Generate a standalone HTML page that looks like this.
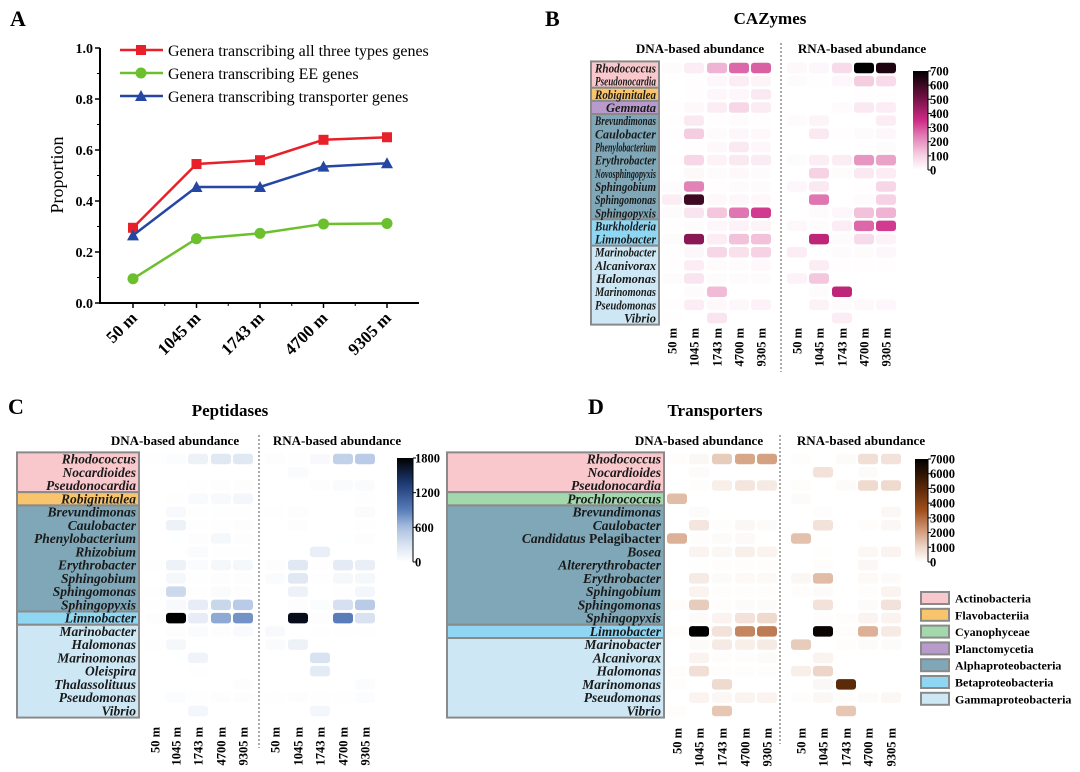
<!DOCTYPE html>
<html><head><meta charset="utf-8">
<style>
html,body{margin:0;padding:0;background:#fff;}
svg{display:block;font-family:"Liberation Serif",serif;}
</style></head>
<body>
<svg id="fig" width="1080" height="772" viewBox="0 0 1080 772" xmlns="http://www.w3.org/2000/svg">
<rect x="0" y="0" width="1080" height="772" fill="#fff"/>
<text x="10" y="26" font-size="22" font-weight="bold">A</text>
<text x="545" y="26" font-size="22" font-weight="bold">B</text>
<text x="8" y="414" font-size="22" font-weight="bold">C</text>
<text x="588" y="414" font-size="22" font-weight="bold">D</text>
<g id="pa"></g>
<g id="pb"></g>
<g id="pc"></g>
<g id="pd"></g>
<g id="legend"></g>
</svg>
<script>
// ---------- Panel A data ----------
const depths = ["50 m","1045 m","1743 m","4700 m","9305 m"];
const allThree = [0.295,0.545,0.56,0.64,0.65];
const eeGenes = [0.095,0.252,0.273,0.31,0.312];
const transGenes = [0.265,0.455,0.455,0.535,0.548];
const yTicks = [0.0,0.2,0.4,0.6,0.8,1.0];

// ---------- Panel B data (CAZymes) ----------
const bRows = ["Rhodococcus","Pseudonocardia","Robiginitalea","Gemmata","Brevundimonas","Caulobacter","Phenylobacterium","Erythrobacter","Novosphingopyxis","Sphingobium","Sphingomonas","Sphingopyxis","Burkholderia","Limnobacter","Marinobacter","Alcanivorax","Halomonas","Marinomonas","Pseudomonas","Vibrio"];
const bGroups = [["act",2],["fla",1],["pla",1],["alp",8],["bet",2],["gam",6]];
const bDNA = [[10,40,150,270,280],[0,5,20,40,25],[0,5,20,20,50],[5,15,40,90,45],[5,50,5,10,5],[5,110,10,20,15],[0,5,15,50,20],[5,90,30,50,45],[0,15,10,15,10],[10,230,5,10,10],[40,600,15,20,15],[10,60,120,250,330],[5,10,20,30,25],[10,470,40,130,130],[5,20,90,70,100],[5,40,10,10,15],[10,60,10,10,10],[0,10,140,0,0],[5,40,15,20,30],[5,0,60,0,0]];
const bRNA = [[15,20,80,700,650],[10,5,20,110,80],[0,0,0,5,5],[0,0,10,50,40],[10,25,0,0,40],[0,50,5,10,20],[0,0,0,5,10],[10,40,40,200,180],[0,100,10,50,40],[20,50,0,5,90],[0,250,0,10,100],[0,10,20,130,150],[15,10,40,270,330],[0,380,10,80,30],[40,0,10,10,20],[0,40,5,5,5],[30,120,0,0,0],[0,10,380,0,0],[0,30,10,15,20],[0,0,40,0,0]];
const bTicks = [0,100,200,300,400,500,600,700];

// ---------- Panel C data (Peptidases) ----------
const cRows = ["Rhodococcus","Nocardioides","Pseudonocardia","Robiginitalea","Brevundimonas","Caulobacter","Phenylobacterium","Rhizobium","Erythrobacter","Sphingobium","Sphingomonas","Sphingopyxis","Limnobacter","Marinobacter","Halomonas","Marinomonas","Oleispira","Thalassolituus","Pseudomonas","Vibrio"];
const cGroups = [["act",3],["fla",1],["alp",8],["bet",1],["gam",7]];
const cDNA = [[10,30,150,250,250],[0,0,0,0,0],[0,0,10,20,20],[0,10,50,60,100],[0,60,10,10,10],[0,150,10,10,20],[0,5,20,80,20],[0,0,40,10,10],[10,150,40,80,80],[0,80,10,20,20],[10,380,10,40,20],[10,60,200,400,500],[20,1800,200,700,800],[0,20,40,20,50],[10,80,0,0,0],[0,5,120,0,0],[0,0,10,0,0],[0,0,0,0,20],[0,30,10,20,20],[0,0,100,0,0]];
const cRNA = [[20,10,60,450,500],[0,40,0,0,0],[0,0,20,40,40],[0,0,0,0,10],[10,20,0,0,40],[0,20,0,0,10],[0,0,0,5,20],[0,0,180,0,0],[20,250,10,220,170],[40,250,10,80,80],[0,150,0,10,100],[0,20,30,320,500],[0,1700,20,900,300],[60,0,10,10,10],[40,150,0,0,0],[0,0,300,0,0],[0,0,220,0,0],[0,0,0,0,30],[10,20,10,10,30],[0,0,100,0,0]];
const cTicks = [0,600,1200,1800];

// ---------- Panel D data (Transporters) ----------
const dRows = ["Rhodococcus","Nocardioides","Pseudonocardia","Prochlorococcus","Brevundimonas","Caulobacter","Candidatus Pelagibacter","Bosea","Altererythrobacter","Erythrobacter","Sphingobium","Sphingomonas","Sphingopyxis","Limnobacter","Marinobacter","Alcanivorax","Halomonas","Marinomonas","Pseudomonas","Vibrio"];
const dGroups = [["act",3],["cya",1],["alp",9],["bet",1],["gam",6]];
const dDNA = [[50,200,1200,1900,2000],[0,100,0,0,0],[0,50,400,600,500],[1500,0,0,0,0],[0,100,0,0,0],[0,600,50,200,100],[1700,50,100,150,0],[0,300,200,400,300],[0,30,50,50,50],[0,500,100,150,150],[0,300,50,50,50],[50,1200,50,100,100],[0,100,300,700,900],[50,7000,700,2500,2700],[0,100,500,400,500],[0,300,50,50,100],[50,800,50,50,50],[50,0,900,0,0],[0,300,200,300,300],[50,0,1300,0,0]];
const dRNA = [[50,0,100,800,700],[0,700,0,100,0],[50,0,100,900,900],[100,0,0,0,0],[0,50,0,0,200],[0,700,0,50,200],[1400,0,0,0,0],[0,30,0,200,300],[0,50,0,200,0],[200,1500,0,150,100],[50,100,0,50,300],[0,700,0,100,700],[0,50,50,300,300],[0,6800,50,1700,500],[1200,0,50,100,100],[0,300,0,0,0],[400,1000,0,0,0],[0,200,5000,0,0],[50,200,50,100,200],[0,0,1300,0,0]];
const dTicks = [0,1000,2000,3000,4000,5000,6000,7000];

const legendNames = ["Actinobacteria","Flavobacteriia","Cyanophyceae","Planctomycetia","Alphaproteobacteria","Betaproteobacteria","Gammaproteobacteria"];
const legendKeys = ["act","fla","cya","pla","alp","bet","gam"];

const NS="http://www.w3.org/2000/svg";
const groupFill={act:"#f8c8cc",fla:"#f8c46c",cya:"#a2d8ab",pla:"#b89acb",alp:"#7fa7b7",bet:"#8fd6f3",gam:"#cde8f4"};
function el(tag,attrs,parent){const e=document.createElementNS(NS,tag);for(const k in attrs)e.setAttribute(k,attrs[k]);parent.appendChild(e);return e;}
function txt(s,attrs,parent){const e=el("text",attrs,parent);e.textContent=s;return e;}

// ---------- Panel A ----------
(function(){
  const g=document.getElementById("pa");
  const x0=100,x1=419,yTop=48,yBot=303;
  const xs=i=>133+i*63.5;
  const ys=v=>yBot-(v/1.0)*(yBot-yTop);
  const ax=el("path",{d:`M${x0},${yTop} V${yBot} H${x1}`,stroke:"#000","stroke-width":2,fill:"none"},g);
  
  
  yTicks.forEach(v=>{
    el("line",{x1:x0-5,x2:x0,y1:ys(v),y2:ys(v),stroke:"#000","stroke-width":1.5},g);
    const t=txt(v.toFixed(1),{x:x0-7,y:ys(v)+5,"font-size":14,"font-weight":"bold","text-anchor":"end"},g);
    
    
  });
  for(let v=0.1;v<1;v+=0.2) el("line",{x1:x0-3,x2:x0,y1:ys(v),y2:ys(v),stroke:"#000","stroke-width":1},g);
  depths.forEach((d,i)=>{
    el("line",{x1:xs(i),x2:xs(i),y1:yBot,y2:yBot+5,stroke:"#000","stroke-width":1.5},g);
    if(i<4) el("line",{x1:xs(i)+31.75,x2:xs(i)+31.75,y1:yBot,y2:yBot+3,stroke:"#000","stroke-width":1},g);
    const t=txt(d,{x:xs(i)+5,y:yBot+16,"font-size":17,"font-weight":"bold","text-anchor":"end",transform:`rotate(-45 ${xs(i)+5} ${yBot+16})`},g);
    
    
  });
  const yl=txt("Proportion",{x:63,y:175,"font-size":18,"text-anchor":"middle",transform:"rotate(-90 63 175)"},g);
  
  
  function marker(type,x,y,c,parent){
    if(type==="sq") return el("rect",{x:x-5,y:y-5,width:10,height:10,fill:c},parent);
    if(type==="ci") return el("circle",{cx:x,cy:y,r:5.5,fill:c},parent);
    return el("path",{d:`M${x},${y-6} L${x+6},${y+5} L${x-6},${y+5}Z`,fill:c},parent);
  }
  const series=[[allThree,"#e8202a","sq","Genera transcribing all three types genes"],[eeGenes,"#6cbf2d","ci","Genera transcribing EE genes"],[transGenes,"#2447a4","tr","Genera transcribing transporter genes"]];
  series.forEach((s,k)=>{
    const sg=el("g",{},g);
    
    
    el("polyline",{points:s[0].map((v,i)=>xs(i)+","+ys(v)).join(" "),fill:"none",stroke:s[1],"stroke-width":2.5},sg);
    s[0].forEach((v,i)=>{const m=marker(s[2],xs(i),ys(v),s[1],sg);});
    const ly=50+k*23;
    const lg=el("g",{},g);
    
    
    el("line",{x1:120,x2:163,y1:ly,y2:ly,stroke:s[1],"stroke-width":2.5},lg);
    marker(s[2],141,ly,s[1],lg);
    txt(s[3],{x:168,y:ly+6,"font-size":16},lg);
  });
})();

// ---------- Heatmaps ----------
function lerpColor(stops,t){
  t=Math.max(0,Math.min(1,t));
  for(let i=1;i<stops.length;i++){
    if(t<=stops[i][0]){
      const a=stops[i-1],b=stops[i];const f=(t-a[0])/(b[0]-a[0]);
      const ca=a[1],cb=b[1];
      return `rgb(${Math.round(ca[0]+(cb[0]-ca[0])*f)},${Math.round(ca[1]+(cb[1]-ca[1])*f)},${Math.round(ca[2]+(cb[2]-ca[2])*f)})`;
    }
  }
  const c=stops[stops.length-1][1];return `rgb(${c[0]},${c[1]},${c[2]})`;
}
const pinkMap=[[0,[255,255,255]],[0.15,[246,208,227]],[0.35,[224,122,179]],[0.5,[207,43,135]],[0.75,[106,15,62]],[1,[0,0,0]]];
const blueMap=[[0,[255,255,255]],[0.15,[222,230,243]],[0.33,[170,192,224]],[0.5,[88,125,185]],[0.75,[30,60,118]],[1,[0,0,0]]];
const brownMap=[[0,[255,255,255]],[0.15,[236,212,198]],[0.3,[210,156,124]],[0.5,[160,80,28]],[0.72,[90,40,8]],[1,[0,0,0]]];

function heatmap(gid,cfg){
  const g=document.getElementById(gid);
  const rowY=i=>cfg.y0+i*cfg.dy;
  const t=txt(cfg.title,{x:cfg.titleX,y:cfg.titleY,"font-size":17,"font-weight":"bold","text-anchor":"middle"},g);
  
  
  const h1=txt("DNA-based abundance",{x:cfg.dnaHX,y:cfg.headY,"font-size":13,"font-weight":"bold","text-anchor":"middle"},g);
  
  
  const h2=txt("RNA-based abundance",{x:cfg.rnaHX,y:cfg.headY,"font-size":13,"font-weight":"bold","text-anchor":"middle"},g);
  
  
  const dv=el("line",{x1:cfg.divX,x2:cfg.divX,y1:cfg.headY-10,y2:cfg.divY2,stroke:"#555","stroke-width":1,"stroke-dasharray":"2,2"},g);
  
  
  let r=0;
  cfg.groups.forEach(gr=>{
    const top=rowY(r)-cfg.dy/2, h=gr[1]*cfg.dy;
    const b=el("rect",{x:cfg.boxX0,y:top,width:cfg.boxX1-cfg.boxX0,height:h,fill:groupFill[gr[0]],stroke:"#8a8a8a","stroke-width":2},g);
    
    
    r+=gr[1];
  });
  const maxW=cfg.boxX1-cfg.boxX0-7;
  cfg.rows.forEach((name,i)=>{
    const lab=txt("",{x:cfg.boxX1-3,y:rowY(i)+4.5,"font-size":cfg.fs,"font-weight":"bold","text-anchor":"end",fill:"#1a1a1a"},g);
    if(name.startsWith("Candidatus ")){
      const a=document.createElementNS(NS,"tspan");a.textContent="Candidatus ";a.setAttribute("font-style","italic");lab.appendChild(a);
      const b2=document.createElementNS(NS,"tspan");b2.textContent=name.slice(11);lab.appendChild(b2);
    } else {lab.setAttribute("font-style","italic");lab.textContent=name;}
    
    
    try{ if(lab.getComputedTextLength()>maxW){lab.setAttribute("textLength",maxW);lab.setAttribute("lengthAdjust","spacingAndGlyphs");} }catch(e){}
  });
  const draw=(data,xsArr,kind)=>{
    data.forEach((row,i)=>row.forEach((v,j)=>{
      const c=el("rect",{x:xsArr[j]-cfg.cw/2,y:rowY(i)-cfg.ch/2,width:cfg.cw,height:cfg.ch,rx:3,fill:lerpColor(cfg.cmap,v/cfg.vmax)},g);
      
      
    }));
  };
  draw(cfg.dna,cfg.dnaX,"dna");
  draw(cfg.rna,cfg.rnaX,"rna");
  [cfg.dnaX,cfg.rnaX].forEach(arr=>arr.forEach((x,j)=>{
    const xl=txt(depths[j],{x:x+4.5,y:cfg.xLabY,"font-size":12.5,"font-weight":"bold","text-anchor":"end",transform:`rotate(-90 ${x+4.5} ${cfg.xLabY})`},g);
    
    
  }));
  const gradId=gid+"grad";
  const defs=el("defs",{},g);
  const lg=el("linearGradient",{id:gradId,x1:0,y1:1,x2:0,y2:0},defs);
  for(let k=0;k<=20;k++) el("stop",{offset:k/20,"stop-color":lerpColor(cfg.cmap,k/20)},lg);
  const cb=el("rect",{x:cfg.cbX,y:cfg.cbY0,width:cfg.cbW,height:cfg.cbY1-cfg.cbY0,fill:`url(#${gradId})`},g);
  
  
  el("line",{x1:cfg.cbX+cfg.cbW,x2:cfg.cbX+cfg.cbW,y1:cfg.cbY0,y2:cfg.cbY1,stroke:"#000","stroke-width":1},g);
  cfg.ticks.forEach(v=>{
    const y=cfg.cbY1-(v/cfg.vmax)*(cfg.cbY1-cfg.cbY0);
    el("line",{x1:cfg.cbX+cfg.cbW,x2:cfg.cbX+cfg.cbW+3,y1:y,y2:y,stroke:"#000"},g);
    const tl=txt(String(v),{x:cfg.cbX+cfg.cbW+2,y:y+4.5,"font-size":12.5,"font-weight":"bold"},g);
    
    
  });
}

heatmap("pb",{title:"CAZymes",titleX:770,titleY:24,headY:53,dnaHX:700,rnaHX:862,fs:12.5,rows:bRows,groups:bGroups,dna:bDNA,rna:bRNA,
  y0:68,dy:13.16,dnaX:[672,694,717,739,761],rnaX:[797,819,842,864,886],cw:20,ch:10.5,boxX0:591,boxX1:659,
  divX:781,divY2:372,xLabY:328,cmap:pinkMap,vmax:700,ticks:bTicks,cbX:913,cbW:15,cbY0:71,cbY1:170});
heatmap("pc",{title:"Peptidases",titleX:230,titleY:416,headY:445,dnaHX:175,rnaHX:337,fs:13.5,rows:cRows,groups:cGroups,dna:cDNA,rna:cRNA,
  y0:459,dy:13.26,dnaX:[155,176,198,221,243],rnaX:[275,298,320,343,365],cw:20,ch:10.5,boxX0:17,boxX1:139,
  divX:259,divY2:748,xLabY:727,cmap:blueMap,vmax:1800,ticks:cTicks,cbX:397,cbW:16,cbY0:458,cbY1:562});
heatmap("pd",{title:"Transporters",titleX:715,titleY:416,headY:445,dnaHX:699,rnaHX:861,fs:13.5,rows:dRows,groups:dGroups,dna:dDNA,rna:dRNA,
  y0:459,dy:13.26,dnaX:[677,699,722,745,767],rnaX:[801,823,846,868,891],cw:20,ch:10.5,boxX0:447,boxX1:664,
  divX:780,divY2:744,xLabY:728,cmap:brownMap,vmax:7000,ticks:dTicks,cbX:915,cbW:13,cbY0:459,cbY1:562});

(function(){
  const g=document.getElementById("legend");
  legendNames.forEach((n,i)=>{
    const y=598+i*16.8;
    const e=el("g",{},g);
    
    
    el("rect",{x:921,y:y-6,width:28,height:12,fill:groupFill[legendKeys[i]],stroke:"#8a8a8a","stroke-width":2},e);
    txt(n,{x:955,y:y+4.5,"font-size":12,"font-weight":"bold"},e);
  });
})();
</script>
</body></html>
